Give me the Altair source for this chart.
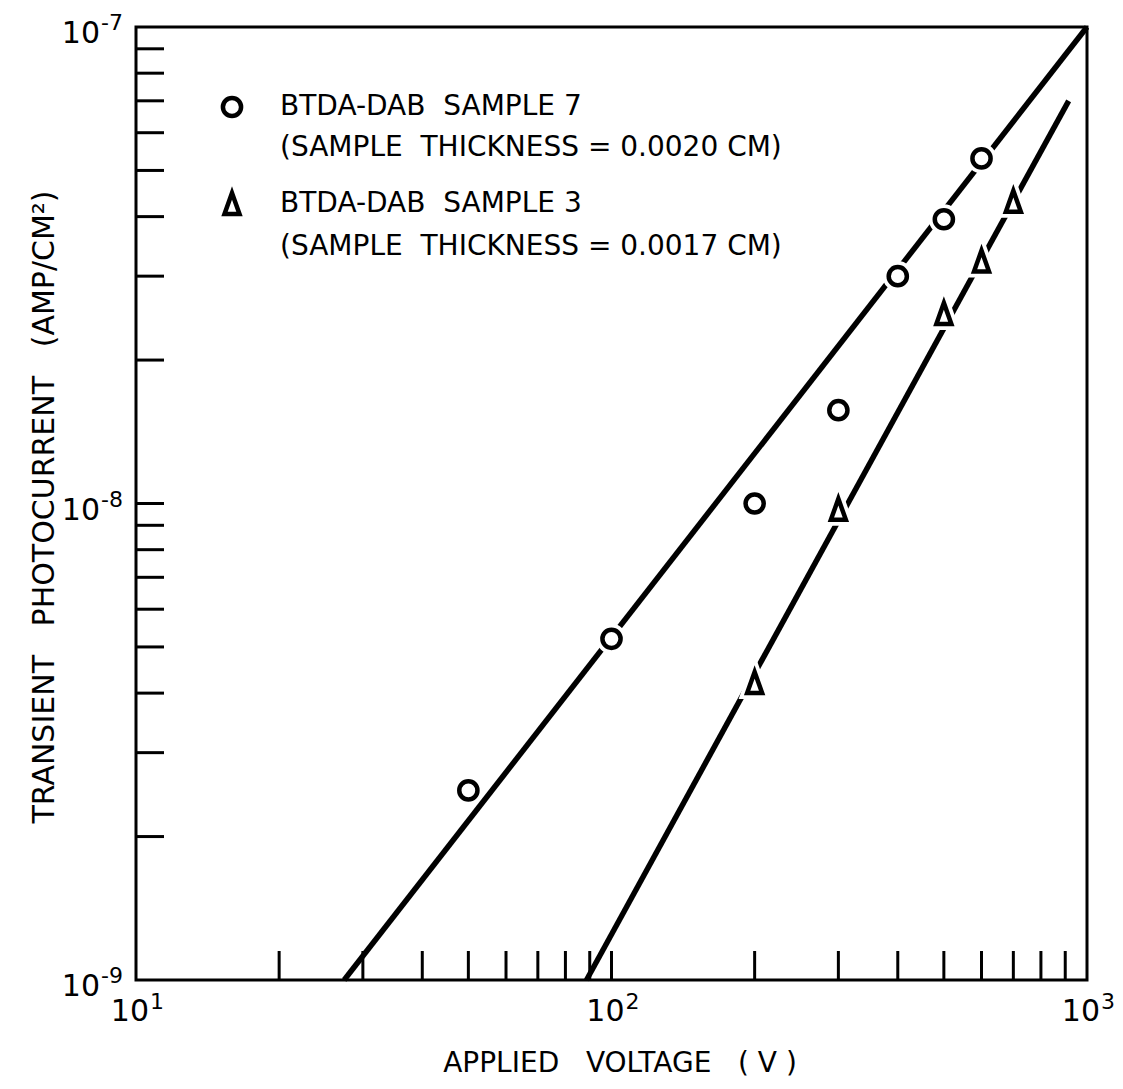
import altair as alt
import pandas as pd

# --- data ---
x_circle = [50, 100, 200, 300, 400, 500, 600]
y_circle = [2.5e-9, 5.2e-9, 1.0e-8, 1.57e-8, 3.0e-8, 3.95e-8, 5.3e-8]
x_tri = [200, 300, 500, 600, 700]
y_tri = [4.2e-9, 9.7e-9, 2.5e-8, 3.22e-8, 4.3e-8]
fit_circle_x = [27.4, 1000]
fit_circle_y = [1e-9, 1e-7]
fit_tri_x = [88.6, 915]
fit_tri_y = [1e-9, 7.0e-8]
x_tick_vals = [20, 30, 40, 50, 60, 70, 80, 90, 100, 200, 300, 400, 500, 600, 700, 800, 900]
y_tick_vals = [2e-9, 3e-9, 4e-9, 5e-9, 6e-9, 7e-9, 8e-9, 9e-9, 1e-8,
               2e-8, 3e-8, 4e-8, 5e-8, 6e-8, 7e-8, 8e-8, 9e-8]
x_label_vals = [10, 100, 1000]
x_label_exp = ["1", "2", "3"]
y_label_vals = [1e-9, 1e-8, 1e-7]
y_label_exp = ["-9", "-8", "-7"]
NB = "\u00a0"
legend_lines = ["BTDA-DAB" + NB + NB + "SAMPLE 7",
                "(SAMPLE" + NB + NB + "THICKNESS = 0.0020 CM)",
                "BTDA-DAB" + NB + NB + "SAMPLE 3",
                "(SAMPLE" + NB + NB + "THICKNESS = 0.0017 CM)"]
x_title = "APPLIED" + NB * 3 + "VOLTAGE" + NB * 3 + "(" + NB + "V" + NB + ")"
y_title = "TRANSIENT" + NB * 3 + "PHOTOCURRENT" + NB * 3 + "(AMP/CM²)"

W, H = 951, 953
FONT = "DejaVu Sans"
TRI = "M0,-1.1L0.75,1L-0.75,1Z"

pts = pd.DataFrame({
    "x": x_circle + x_tri,
    "y": y_circle + y_tri,
    "s": ["c"] * len(x_circle) + ["t"] * len(x_tri),
})
fits = pd.DataFrame({
    "x": fit_circle_x + fit_tri_x,
    "y": fit_circle_y + fit_tri_y,
    "s": ["c", "c", "t", "t"],
})

xs = alt.Scale(type="log", domain=[10, 1000], nice=False)
ys = alt.Scale(type="log", domain=[1e-9, 1e-7], nice=False)
shape_scale = alt.Scale(domain=["c", "t"], range=["circle", TRI])
size_scale = alt.Scale(domain=["c", "t"], range=[330, 400])

X = lambda f: alt.X(f, scale=xs, axis=None)
Y = lambda f: alt.Y(f, scale=ys, axis=None)

lines = alt.Chart(fits).mark_line(color="black", strokeWidth=5.5, strokeCap="butt").encode(
    x=X("x:Q"), y=Y("y:Q"), detail="s:N",
)

halo = alt.Chart(pts).mark_point(filled=True, color="white", stroke="white", strokeWidth=12,
                                 opacity=1).encode(
    x=X("x:Q"), y=Y("y:Q"),
    shape=alt.Shape("s:N", scale=shape_scale, legend=None),
    size=alt.Size("s:N", scale=size_scale, legend=None),
)

markers = alt.Chart(pts).mark_point(fill="white", stroke="black", strokeWidth=4.5,
                                    opacity=1, fillOpacity=1).encode(
    x=X("x:Q"), y=Y("y:Q"),
    shape=alt.Shape("s:N", scale=shape_scale, legend=None),
    size=alt.Size("s:N", scale=size_scale, legend=None),
)

xt = alt.Chart(pd.DataFrame({"v": x_tick_vals})).mark_rule(color="black", strokeWidth=3).encode(
    x=X("v:Q"),
    y=alt.value(H), y2=alt.value(H - 29),
)
yt = alt.Chart(pd.DataFrame({"v": y_tick_vals})).mark_rule(color="black", strokeWidth=3).encode(
    y=Y("v:Q"),
    x=alt.value(0), x2=alt.value(28),
)

# tick labels: base "10" plus raised exponent
xl = pd.DataFrame({"v": x_label_vals, "e": x_label_exp})
xl_base = alt.Chart(xl).mark_text(text="10", align="right", baseline="middle", dx=13,
                                  font=FONT, fontSize=30, color="black").encode(
    x=X("v:Q"), y=alt.value(H + 32))
xl_exp = alt.Chart(xl).mark_text(align="left", baseline="middle", dx=14,
                                 font=FONT, fontSize=22, color="black").encode(
    x=X("v:Q"), y=alt.value(H + 22), text="e:N")

yl = pd.DataFrame({"v": y_label_vals, "e": y_label_exp})
yl_base = alt.Chart(yl).mark_text(text="10", align="right", baseline="middle", dx=-36, dy=7,
                                  font=FONT, fontSize=30, color="black").encode(
    x=alt.value(0), y=Y("v:Q"))
yl_exp = alt.Chart(yl).mark_text(align="left", baseline="middle", dx=-35, dy=-4,
                                 font=FONT, fontSize=22, color="black").encode(
    x=alt.value(0), y=Y("v:Q"), text="e:N")

titles = alt.Chart(pd.DataFrame({"t": [x_title]})).mark_text(
    align="center", baseline="middle", font=FONT, fontSize=28, color="black").encode(
    x=alt.value(484), y=alt.value(H + 84), text="t:N")
ytitle = alt.Chart(pd.DataFrame({"t": [y_title]})).mark_text(
    align="center", baseline="middle", angle=270, font=FONT, fontSize=30, color="black").encode(
    x=alt.value(-91), y=alt.value(480), text="t:N")

leg_sym = alt.Chart(pd.DataFrame({"s": ["c", "t"], "py": [80, 177]})).mark_point(
    fill="white", stroke="black", strokeWidth=4.5, opacity=1, fillOpacity=1).encode(
    x=alt.value(96), y=alt.Y("py:Q", scale=None),
    shape=alt.Shape("s:N", scale=shape_scale, legend=None),
    size=alt.Size("s:N", scale=size_scale, legend=None),
)
leg_txt = alt.Chart(pd.DataFrame({"t": legend_lines, "py": [80, 121, 177, 220]})).mark_text(
    align="left", baseline="middle", font=FONT, fontSize=28, color="black").encode(
    x=alt.value(144), y=alt.Y("py:Q", scale=None), text="t:N",
)

chart = alt.layer(lines, halo, markers, xt, yt, xl_base, xl_exp, yl_base, yl_exp,
                  titles, ytitle, leg_sym, leg_txt).properties(
    width=W, height=H,
    autosize=alt.AutoSizeParams(type="none"),
    padding={"left": 128, "top": 19, "right": 28, "bottom": 98},
    background="white",
).configure_view(stroke="black", strokeWidth=3)

chart.save("out.html", embed_options={"renderer": "svg", "actions": False})
